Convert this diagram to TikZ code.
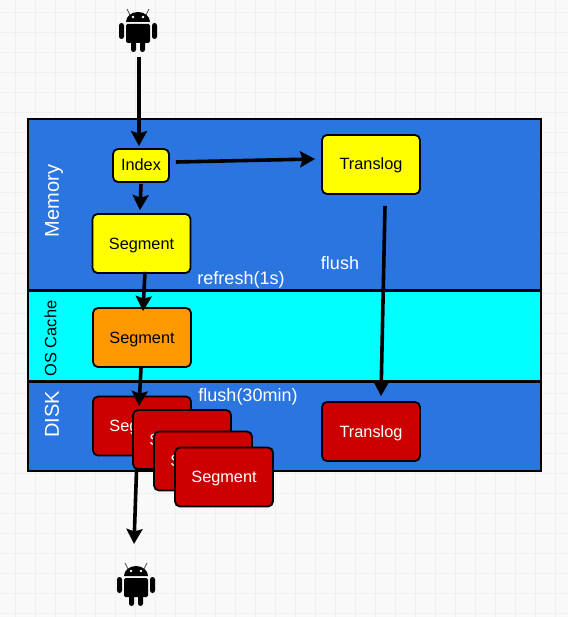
\documentclass[tikz,border=0pt]{standalone}
\usepackage{fontspec}
\setmainfont{Liberation Sans}
\usetikzlibrary{arrows.meta}
\definecolor{bandblue}{HTML}{2A75E0}
\definecolor{cachecyan}{HTML}{00FFFF}
\definecolor{boxyellow}{HTML}{FFFF00}
\definecolor{boxorange}{HTML}{FF9900}
\definecolor{boxred}{HTML}{CC0000}
\definecolor{pagegrey}{HTML}{F9F9F9}
\definecolor{gridgrey}{HTML}{F0F0F0}
\tikzset{
  band/.style={draw=black,line width=2pt,anchor=north west,inner sep=0pt},
  seg/.style={draw=black,line width=1.8pt,rounded corners=5pt,minimum width=98pt,minimum height=59pt,inner sep=0pt,text height=12pt,text depth=1pt,font=\fontsize{16.3}{16.3}\selectfont},
  seglight/.style={seg,fill=#1,text=black},
  segdark/.style={seg,fill=boxred,text=white},
  tag/.style={font=\fontsize{18}{18}\selectfont,inner sep=0pt},
  flow/.style={line width=3.6pt,-{Stealth[length=15pt,width=16pt,inset=2.5pt]}},
}
\newcommand{\droid}[2]{%
  \begin{scope}[shift={(#1,#2)}]
    \fill (-12,-2) arc[start angle=180,end angle=360,x radius=12,y radius=10] -- cycle;
    \fill[rounded corners=1.5pt] (-12,0) rectangle (12,19);
    \fill[rounded corners=2.5pt] (-19,-1) rectangle (-14,15);
    \fill[rounded corners=2.5pt] (14,-1) rectangle (19,15);
    \fill[rounded corners=2.5pt] (-7,15) rectangle (-2,28);
    \fill[rounded corners=2.5pt] (2,15) rectangle (7,28);
    \draw[line width=.7pt,black!70] (-8,-9) -- (-11,-15);
    \draw[line width=.7pt,black!70] (8,-9) -- (11,-15);
    \fill[white] (-5,-7) circle (1.3) (5,-7) circle (1.3);
  \end{scope}}
\begin{document}
\begin{tikzpicture}[x=1pt,y=-1pt]
  \useasboundingbox (0,0) rectangle (568,617);
  \fill[pagegrey] (0,0) rectangle (568,617);
  \foreach \gx in {15,35,...,555} \draw[gridgrey,line width=1pt] (\gx,0) -- (\gx,617);
  \foreach \gy in {13,33,...,613} \draw[gridgrey,line width=1pt] (0,\gy) -- (568,\gy);
  % bands
  \node[band,fill=bandblue,minimum width=513pt,minimum height=171pt] (memory) at (26.5,118) {};
  \node[band,fill=cachecyan,minimum width=513pt,minimum height=90pt] (cache) at (26.5,290) {};
  \node[band,fill=bandblue,minimum width=513pt,minimum height=89pt] (disk) at (26.5,381) {};
  \node[tag,text=white,rotate=90,font=\fontsize{20}{20}\selectfont] (memorytag) at (54,201) {Memory};
  \node[tag,text=black,rotate=90,font=\fontsize{16.4}{16.4}\selectfont] (cachetag) at (50.5,338.5) {OS Cache};
  \node[tag,text=white,rotate=90,font=\fontsize{20}{20}\selectfont] (disktag) at (52,414.5) {DISK};
  \node[tag,text=white] (refreshtag) at (241,280) {refresh(1s)};
  \node[tag,text=white] (flushtag) at (340,263) {flush};
  \node[tag,text=white] (flushlongtag) at (248,397) {flush(30min)};
  % droids
  \droid{138}{24}
  \coordinate (droidtop) at (139,57);
  \droid{136}{578}
  \coordinate (droidend) at (134,544);
  % boxes
  \node[seglight=boxyellow,minimum width=56pt,minimum height=33pt] (index) at (141,165.5) {Index};
  \node[seglight=boxyellow] (segmem) at (141.5,243.5) {Segment};
  \node[seglight=boxyellow] (logmem) at (371,164.5) {Translog};
  \node[seglight=boxorange] (segcache) at (142,337.5) {Segment};
  \node[segdark] (segdiska) at (142,426) {Segment};
  \draw[flow] ([xshift=-5pt]segdiska.south) -- (droidend);
  \node[segdark] (segdiskb) at (182,439.5) {Segment};
  \node[segdark] (segdiskc) at (203,461) {Segment};
  \node[segdark] (segdiskd) at (224,477) {Segment};
  \node[segdark] (logdisk) at (371,431.5) {Translog};
  % arrows
  \draw[flow] (droidtop) -- ([xshift=-2pt,yshift=2pt]index.north);
  \draw[flow] ([yshift=-1pt]index.south) -- ([xshift=-1.5pt,yshift=3pt]segmem.north);
  \draw[flow] ([xshift=6pt,yshift=3.5pt]index.east) -- ([xshift=-6pt,yshift=5.5pt]logmem.west);
  \draw[flow] ([xshift=3.5pt,yshift=2pt]segmem.south) -- ([xshift=1pt,yshift=-4pt]segcache.north);
  \draw[flow] ([xshift=-1pt]segcache.south) -- ([xshift=-3pt,yshift=-10.5pt]segdiska.north);
  \draw[flow] ([xshift=14pt,yshift=-11pt]logmem.south) -- ([xshift=10pt,yshift=5pt]logdisk.north);
\end{tikzpicture}
\end{document}
